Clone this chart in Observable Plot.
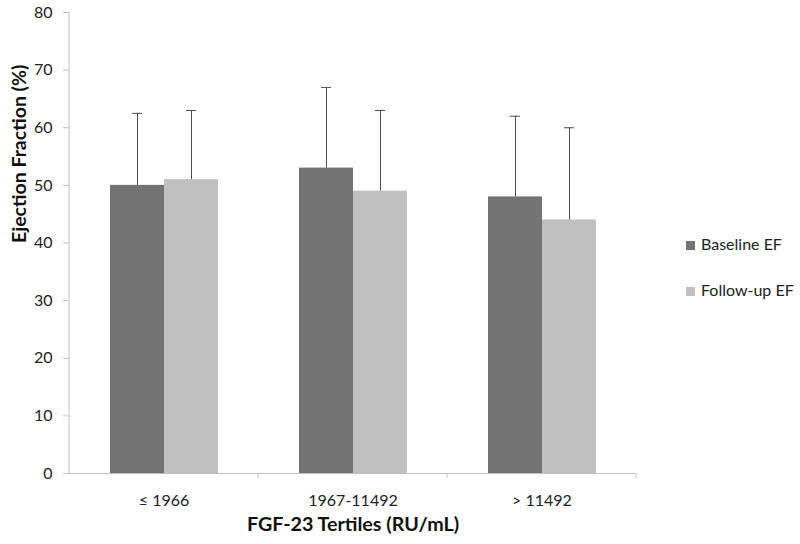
<!DOCTYPE html>
<html>
<head>
<meta charset="utf-8">
<script src="https://cdn.jsdelivr.net/npm/d3@7"></script>
<script src="https://cdn.jsdelivr.net/npm/@observablehq/plot@0.6"></script>
<style>
  html, body { margin: 0; padding: 0; background: #fff; }
  #wrap { position: relative; width: 800px; height: 544px; font-family: Lato, "Open Sans", sans-serif; }
  .legend { position: absolute; left: 686px; font-size: 16px; color: #222; line-height: 18px; }
  .legend span.sw { display: inline-block; width: 9px; height: 9px; margin-right: 6px; vertical-align: 0px; }
</style>
</head>
<body>
<div id="wrap"></div>
<script>
const tertiles = ["≤ 1966", "1967-11492", "> 11492"];
const seriesNames = ["Baseline EF", "Follow-up EF"];
const baselineEF = [50, 53, 48];
const followupEF = [51, 49, 44];
const baselineUpper = [62.5, 67, 62];
const followupUpper = [63, 63, 60];
const colors = ["#737373", "#c0c0c0"];
const yTicks = [0, 10, 20, 30, 40, 50, 60, 70, 80];

const data = [];
tertiles.forEach((t, i) => {
  data.push({tertile: t, series: seriesNames[0], value: baselineEF[i], upper: baselineUpper[i]});
  data.push({tertile: t, series: seriesNames[1], value: followupEF[i], upper: followupUpper[i]});
});

const axisColor = "#bfbfbf";
const plot = Plot.plot({
  width: 800,
  height: 544,
  marginTop: 12,
  marginBottom: 71,
  marginLeft: 68,
  marginRight: 163,
  style: {fontFamily: "Lato, 'Open Sans', sans-serif", fontSize: "16px", color: "#222", background: "#fff"},
  fx: {domain: tertiles, paddingInner: 0, paddingOuter: 0, label: null},
  x: {domain: seriesNames, paddingInner: 0, paddingOuter: 0.743, axis: null},
  y: {domain: [0, 80], label: null},
  color: {domain: seriesNames, range: colors},
  marks: [
    Plot.barY(data, {fx: "tertile", x: "series", y: "value", fill: "series"}),
    Plot.ruleX(data, {fx: "tertile", x: "series", y1: "value", y2: "upper", stroke: "#4d4d4d", strokeWidth: 1}),
    Plot.tickY(data, {fx: "tertile", x: "series", y: "upper", stroke: "#4d4d4d", strokeWidth: 1, insetLeft: 22, insetRight: 22}),
    Plot.ruleY([0], {stroke: axisColor, strokeWidth: 1}),
    Plot.axisY({ticks: yTicks, tickSize: 6, tickPadding: 11, stroke: axisColor, fill: "#222", fontSize: 16, label: null}),
    Plot.axisFx({anchor: "bottom", tickSize: 0, tickPadding: 17, dy: 4, fontSize: 16, fill: "#222", label: null}),
    Plot.text(["Ejection Fraction (%)"], {frameAnchor: "left", dx: -50, rotate: -90, fontWeight: "bold", fontSize: 19.5, fill: "#111", facet: "super"}),
    Plot.text(["FGF-23 Tertiles (RU/mL)"], {frameAnchor: "bottom", dy: 57, fontWeight: "bold", fontSize: 19.7, fill: "#111", facet: "super"})
  ]
});

const wrap = document.getElementById("wrap");
wrap.appendChild(plot);

// y-axis line and category boundary ticks derived from the plot's scales
const svg = d3.select(plot);
const fx = plot.scale("fx");
const y = plot.scale("y");
const y0 = y.apply(0), yTop = y.apply(80);
const left = fx.apply(tertiles[0]);
svg.append("line").attr("x1", left).attr("x2", left).attr("y1", yTop).attr("y2", y0)
  .attr("stroke", axisColor);
const edges = tertiles.map(t => fx.apply(t));
edges.push(fx.apply(tertiles[tertiles.length - 1]) + fx.bandwidth);
edges.slice(1).forEach(xe => {
  svg.append("line").attr("x1", xe).attr("x2", xe).attr("y1", y0).attr("y2", y0 + 5).attr("stroke", axisColor);
});

// legend
seriesNames.forEach((s, i) => {
  const d = document.createElement("div");
  d.className = "legend";
  d.style.top = (235 + i * 46) + "px";
  d.innerHTML = `<span class="sw" style="background:${colors[i]}"></span>${s}`;
  wrap.appendChild(d);
});
</script>
</body>
</html>
